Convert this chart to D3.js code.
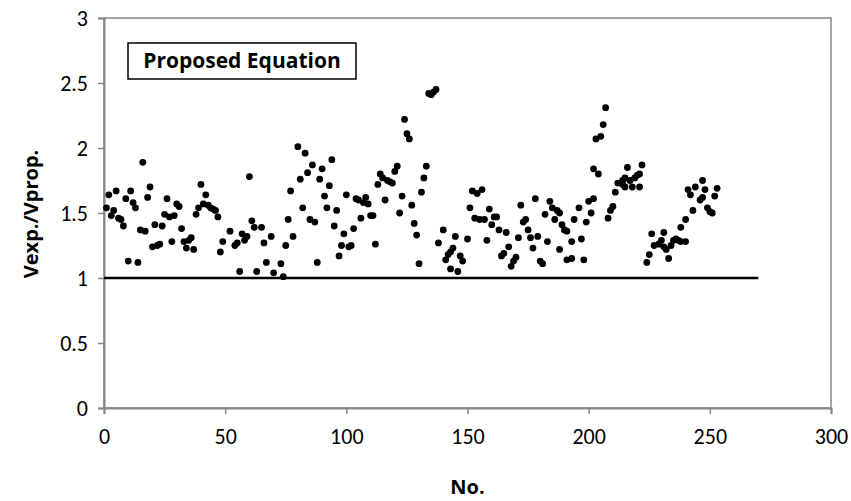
<!DOCTYPE html>
<html>
<head>
<meta charset="utf-8">
<script src="https://cdn.jsdelivr.net/npm/d3@7"></script>
<style>
  body { margin: 0; background: #fff; }
  text { font-family: Carlito, Lato, "Open Sans", sans-serif; }
</style>
</head>
<body>
<div id="chart"></div>
<script>
// chart data
var specimenNo = [
  1,2,3,4,5,6,7,8,9,10,11,12,13,14,15,16,17,18,19,20,
  21,22,23,24,25,26,27,28,29,30,31,32,33,34,35,36,37,38,39,40,
  41,42,43,44,45,46,47,48,49,52,54,55,56,57,58,59,60,61,62,63,
  65,66,67,69,70,73,74,75,76,77,78,80,81,82,83,84,85,86,87,88,
  89,90,91,92,93,94,95,96,97,98,99,100,101,102,103,104,105,106,107,108,
  109,110,111,112,113,114,115,116,117,118,119,120,121,122,123,124,125,126,127,128,
  129,130,131,132,133,134,135,136,137,138,140,141,142,143,143,144,145,146,147,148,
  150,151,152,153,154,155,156,157,158,159,160,161,162,163,164,165,166,167,168,169,
  170,171,172,173,174,175,176,177,178,179,180,181,182,183,184,185,186,187,188,188,
  189,190,191,191,193,193,194,196,197,198,199,200,201,202,202,203,204,205,206,207,
  208,209,210,211,212,214,214,215,215,216,217,218,219,220,221,221,222,224,225,226,
  227,229,230,231,231,232,233,234,235,236,237,238,238,240,240,241,242,243,244,246,
  247,247,248,249,250,251,252,253
];
var ratio = [
  1.54,1.64,1.48,1.52,1.67,1.46,1.45,1.40,1.61,1.13,1.67,1.58,1.54,1.12,1.37,1.89,1.36,1.62,1.70,1.24,
  1.41,1.25,1.26,1.40,1.49,1.61,1.47,1.28,1.48,1.57,1.55,1.38,1.28,1.23,1.29,1.31,1.22,1.49,1.54,1.72,
  1.57,1.64,1.56,1.54,1.53,1.52,1.47,1.20,1.28,1.36,1.25,1.27,1.05,1.34,1.29,1.32,1.78,1.44,1.39,1.05,
  1.39,1.27,1.12,1.32,1.04,1.11,1.01,1.25,1.45,1.67,1.32,2.01,1.76,1.54,1.96,1.81,1.45,1.87,1.43,1.12,
  1.76,1.84,1.63,1.54,1.71,1.91,1.40,1.52,1.17,1.25,1.34,1.64,1.24,1.25,1.38,1.61,1.60,1.46,1.58,1.62,
  1.57,1.48,1.48,1.26,1.72,1.80,1.77,1.60,1.75,1.74,1.73,1.82,1.86,1.50,1.63,2.22,2.11,2.07,1.56,1.42,
  1.33,1.11,1.66,1.77,1.86,2.42,2.41,2.43,2.45,1.27,1.37,1.14,1.18,1.07,1.20,1.23,1.32,1.05,1.17,1.13,
  1.30,1.54,1.67,1.46,1.65,1.45,1.68,1.45,1.29,1.53,1.41,1.47,1.47,1.37,1.17,1.19,1.35,1.24,1.09,1.13,
  1.16,1.31,1.56,1.43,1.45,1.37,1.31,1.23,1.61,1.32,1.13,1.11,1.49,1.28,1.59,1.54,1.45,1.52,1.50,1.22,
  1.41,1.37,1.36,1.14,1.15,1.28,1.45,1.54,1.30,1.14,1.43,1.59,1.50,1.84,1.61,2.07,1.80,2.09,2.18,2.31,
  1.46,1.52,1.55,1.66,1.73,1.75,1.72,1.77,1.70,1.85,1.75,1.70,1.77,1.79,1.70,1.80,1.87,1.12,1.18,1.34,
  1.25,1.26,1.29,1.24,1.35,1.22,1.15,1.25,1.29,1.30,1.29,1.28,1.39,1.28,1.45,1.68,1.64,1.52,1.70,1.60,
  1.62,1.75,1.68,1.54,1.51,1.50,1.63,1.69
];
var xTicks = [0, 50, 100, 150, 200, 250, 300];
var yTicks = [0, 0.5, 1, 1.5, 2, 2.5, 3];
var refLine = [[0, 1], [270, 1]];
var legendLabel = "Proposed Equation";

var points = specimenNo.map(function (d, i) { return { no: d, v: ratio[i] }; });

// svg size and margins
var svgWidth = 851;
var svgHeight = 501;
var margin = { top: 18, right: 20, bottom: 93, left: 104 };
var width = 831 - margin.left;
var height = svgHeight - margin.top - margin.bottom;

var titleFont = "'Open Sans', Lato, sans-serif";

var svg = d3.select("#chart")
    .append("svg")
    .attr("width", svgWidth)
    .attr("height", svgHeight);

var chart = svg.append("g")
    .attr("transform", `translate(${margin.left}, ${margin.top})`);

var xscale = d3.scaleLinear().domain([0, 300]).range([0, width]);
var yscale = d3.scaleLinear().domain([0, 3]).range([height, 0]);

var axisColor = "#868686";

// plot area border
chart.append("rect")
    .attr("x", 0)
    .attr("y", 0)
    .attr("width", width)
    .attr("height", height)
    .attr("fill", "none")
    .attr("stroke", axisColor)
    .attr("stroke-width", 1.5);

var bottomAxis = d3.axisBottom(xscale)
    .tickValues(xTicks)
    .tickSize(6)
    .tickPadding(14)
    .tickFormat(d3.format("d"));
var leftAxis = d3.axisLeft(yscale)
    .tickValues(yTicks)
    .tickSize(6)
    .tickPadding(10)
    .tickFormat(d => String(d));

var xg = chart.append("g")
    .attr("transform", `translate(0, ${height})`)
    .call(bottomAxis);
var yg = chart.append("g")
    .call(leftAxis);

[xg, yg].forEach(function (g) {
    g.select(".domain").attr("stroke", axisColor).attr("stroke-width", 2);
    g.selectAll(".tick line").attr("stroke", axisColor).attr("stroke-width", 1.5);
    g.selectAll(".tick text")
        .attr("fill", "#000")
        .style("font-size", "22px")
        .style("font-family", "Carlito, Lato, 'Open Sans', sans-serif");
});

// reference line at 1
chart.append("path")
    .datum(refLine)
    .attr("d", d3.line().x(d => xscale(d[0])).y(d => yscale(d[1])))
    .attr("stroke", "#000")
    .attr("stroke-width", 2.5)
    .attr("fill", "none");

// points
chart.selectAll("circle.pt")
    .data(points)
    .enter()
    .append("circle")
    .attr("class", "pt")
    .attr("cx", d => xscale(d.no))
    .attr("cy", d => yscale(d.v))
    .attr("r", 3.4)
    .attr("fill", "#000");

// legend box
var legend = chart.append("g")
    .attr("transform", "translate(24, 25)");
legend.append("rect")
    .attr("width", 228)
    .attr("height", 36)
    .attr("fill", "#fff")
    .attr("stroke", "#000")
    .attr("stroke-width", 1.5);
legend.append("text")
    .attr("x", 114)
    .attr("y", 25)
    .style("text-anchor", "middle")
    .style("font-family", titleFont)
    .style("font-size", "21px")
    .style("font-weight", "bold")
    .text(legendLabel);

// axis titles
svg.append("text")
    .attr("x", margin.left + width / 2)
    .attr("y", 494)
    .style("text-anchor", "middle")
    .style("font-family", titleFont)
    .style("font-size", "20px")
    .style("font-weight", "bold")
    .text("No.");

svg.append("text")
    .attr("transform", `translate(38, ${margin.top + height / 2 + 1}) rotate(-90)`)
    .style("text-anchor", "middle")
    .style("font-family", titleFont)
    .style("font-size", "20px")
    .style("font-weight", "bold")
    .text("Vexp./Vprop.");
</script>
</body>
</html>
